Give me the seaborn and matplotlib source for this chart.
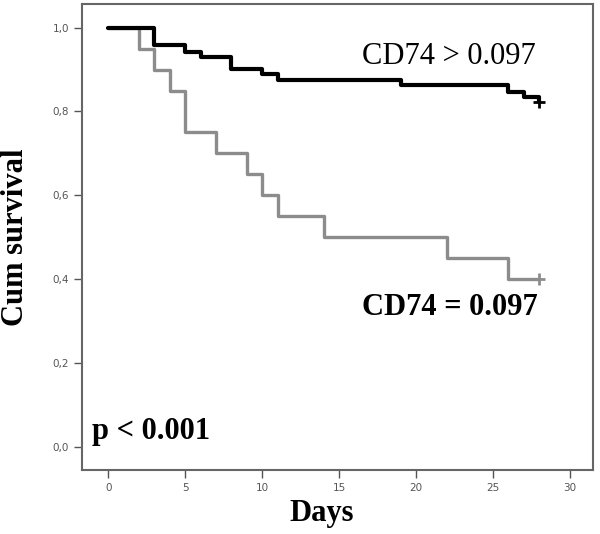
import pandas as pd
import seaborn as sns
import matplotlib.pyplot as plt

# Kaplan-Meier steps
high_days = [0, 3, 5, 6, 8, 10, 11, 19, 26, 27, 28]
high_surv = [1.0, 0.959, 0.943, 0.930, 0.902, 0.889, 0.875, 0.862, 0.846, 0.834, 0.822]
low_days = [0, 2, 3, 4, 5, 7, 9, 10, 11, 14, 22, 26, 28]
low_surv = [1.0, 0.95, 0.90, 0.85, 0.75, 0.70, 0.65, 0.60, 0.55, 0.50, 0.45, 0.40, 0.40]

x_ticks = [0, 5, 10, 15, 20, 25, 30]
y_ticks = [0.0, 0.2, 0.4, 0.6, 0.8, 1.0]
y_tick_labels = ["0,0", "0,2", "0,4", "0,6", "0,8", "1,0"]

high_label = "CD74 > 0.097"
low_label = "CD74 = 0.097"
p_label = "p < 0.001"

sns.set_style("white")
plt.rcParams["font.family"] = ["DejaVu Sans"]

df = pd.concat([
    pd.DataFrame({"days": high_days, "surv": high_surv, "group": "high"}),
    pd.DataFrame({"days": low_days, "surv": low_surv, "group": "low"}),
])

fig = plt.figure(figsize=(6, 5.34), dpi=100)
ax = fig.add_axes([0.137, 0.12, 0.851, 0.873])

sns.lineplot(data=df[df.group == "low"], x="days", y="surv", drawstyle="steps-post",
             color="#8c8c8c", linewidth=2.4, ax=ax, estimator=None)
sns.lineplot(data=df[df.group == "high"], x="days", y="surv", drawstyle="steps-post",
             color="black", linewidth=3, ax=ax, estimator=None)

# censor marks at the end of follow-up
ax.plot(high_days[-1], high_surv[-1], marker="+", color="black", ms=8, mew=2)
ax.plot(low_days[-1], low_surv[-1], marker="+", color="#8c8c8c", ms=8, mew=2)

ax.set_xlim(-1.7, 31.5)
ax.set_ylim(-0.055, 1.057)
ax.set_xticks(x_ticks)
ax.set_yticks(y_ticks)
ax.set_yticklabels(y_tick_labels)
ax.tick_params(axis="both", direction="out", length=6, width=1, color="#555555",
               labelsize=7.5, labelcolor="#555555", left=True, bottom=True)

for s in ax.spines.values():
    s.set_color("#666666")
    s.set_linewidth(1.5)

serif = ["Liberation Serif", "DejaVu Serif"]
ax.set_xlabel("Days", fontsize=22, fontweight="bold", family=serif, color="black")
ax.set_ylabel("Cum survival", fontsize=22, fontweight="bold", family=serif, color="black")
ax.xaxis.set_label_coords(0.47, -0.062)
ax.yaxis.set_label_coords(-0.102, 0.5)

ax.text(0.718, 0.886, high_label, transform=ax.transAxes, ha="center", va="center",
        fontsize=22, family=serif, color="black")
ax.text(0.72, 0.348, low_label, transform=ax.transAxes, ha="center", va="center",
        fontsize=22, fontweight="bold", family=serif, color="black")
ax.text(0.02, 0.082, p_label, transform=ax.transAxes, ha="left", va="center",
        fontsize=22, fontweight="bold", family=serif, color="black")

fig.savefig("out.png", dpi=100)
